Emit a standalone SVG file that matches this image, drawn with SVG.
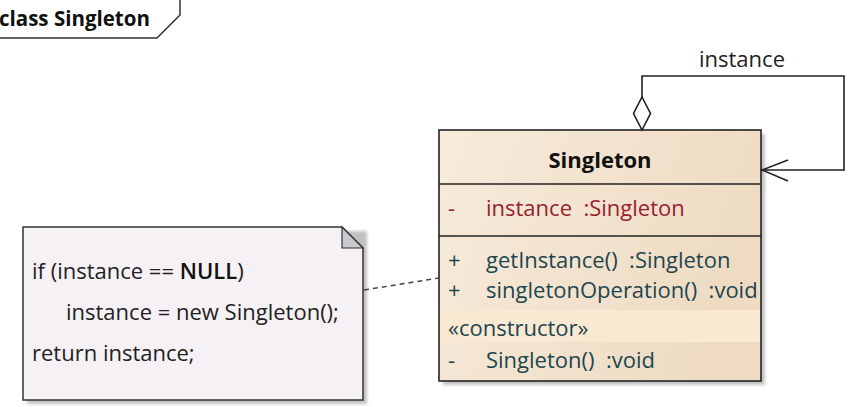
<svg xmlns="http://www.w3.org/2000/svg" width="850" height="407" viewBox="0 0 850 407">
<defs>
<linearGradient id="cls" x1="0" y1="0" x2="1" y2="0.3">
<stop offset="0" stop-color="#f7ebdc"/>
<stop offset="1" stop-color="#eedbc2"/>
</linearGradient>
<filter id="sh" x="-5%" y="-5%" width="115%" height="115%">
<feGaussianBlur stdDeviation="1.5"/>
</filter>
</defs>
<style>
text{font-family:"Open Sans","Noto Sans","DejaVu Sans",sans-serif;font-size:22px;white-space:pre}
.b{font-weight:bold}
.attr{fill:#9a2030}
.op{fill:#1e4650}
.ln{fill:none;stroke:#222;stroke-width:1.6}
.note{fill:#222}
</style>
<rect width="850" height="407" fill="#ffffff"/>
<g id="frame">
<path d="M0,38 L157,38 L180,15 L180,0" fill="none" stroke="#333" stroke-width="1.5"/>
<text x="-1" y="26" class="b" style="font-size:20.5px" fill="#111">class Singleton</text>
</g>
<g id="note">
<rect x="27" y="231" width="340" height="173" fill="#999" filter="url(#sh)" opacity="0.6"/>
<path d="M23,227 L342,227 L363,248 L363,400 L23,400 Z" fill="#f6f1f4" stroke="#333" stroke-width="1.5"/>
<path d="M342,227 L342,248 L363,248 Z" fill="#c9c8cc" stroke="#333" stroke-width="1.2"/>
<text x="32" y="279" class="note">if (instance == <tspan font-weight="600" fill="#111">NULL</tspan>)</text>
<text x="66" y="320" class="note">instance = new Singleton();</text>
<text x="32" y="361" class="note">return instance;</text>
</g>
<g id="singleton">
<rect x="443" y="134" width="322" height="251" fill="#aaa" filter="url(#sh)" opacity="0.7"/>
<rect x="439" y="130" width="322" height="251" fill="url(#cls)" stroke="#222" stroke-width="1.6"/>
<rect x="440" y="310" width="320" height="32" fill="#f9e9d2"/>
<line x1="439" y1="184" x2="761" y2="184" stroke="#222" stroke-width="1.6"/>
<line x1="439" y1="236" x2="761" y2="236" stroke="#222" stroke-width="1.6"/>
<text x="600" y="168" text-anchor="middle" class="b" fill="#111">Singleton</text>
<text x="448" y="216" class="attr">-</text>
<text x="486" y="216" class="attr">instance  :Singleton</text>
<text x="448" y="268" class="op">+</text>
<text x="486" y="268" class="op">getInstance()  :Singleton</text>
<text x="448" y="298" class="op">+</text>
<text x="486" y="298" class="op">singletonOperation()  :void</text>
<text x="448" y="336" class="op">«constructor»</text>
<text x="448" y="368" class="op">-</text>
<text x="486" y="368" class="op">Singleton()  :void</text>
</g>
<g id="connectors">
<path class="ln" d="M642,97 L642,76 L844,76 L844,170 L761,170"/>
<path d="M642,97 L650.5,113.5 L642,130 L633.5,113.5 Z" fill="#fff" stroke="#222" stroke-width="1.6"/>
<path class="ln" d="M788,160 L762,170 L788,181"/>
<text x="742" y="67" text-anchor="middle" fill="#222">instance</text>
<line x1="364" y1="290" x2="439" y2="278" stroke="#444" stroke-width="1.5" stroke-dasharray="5,4"/>
</g>
</svg>
